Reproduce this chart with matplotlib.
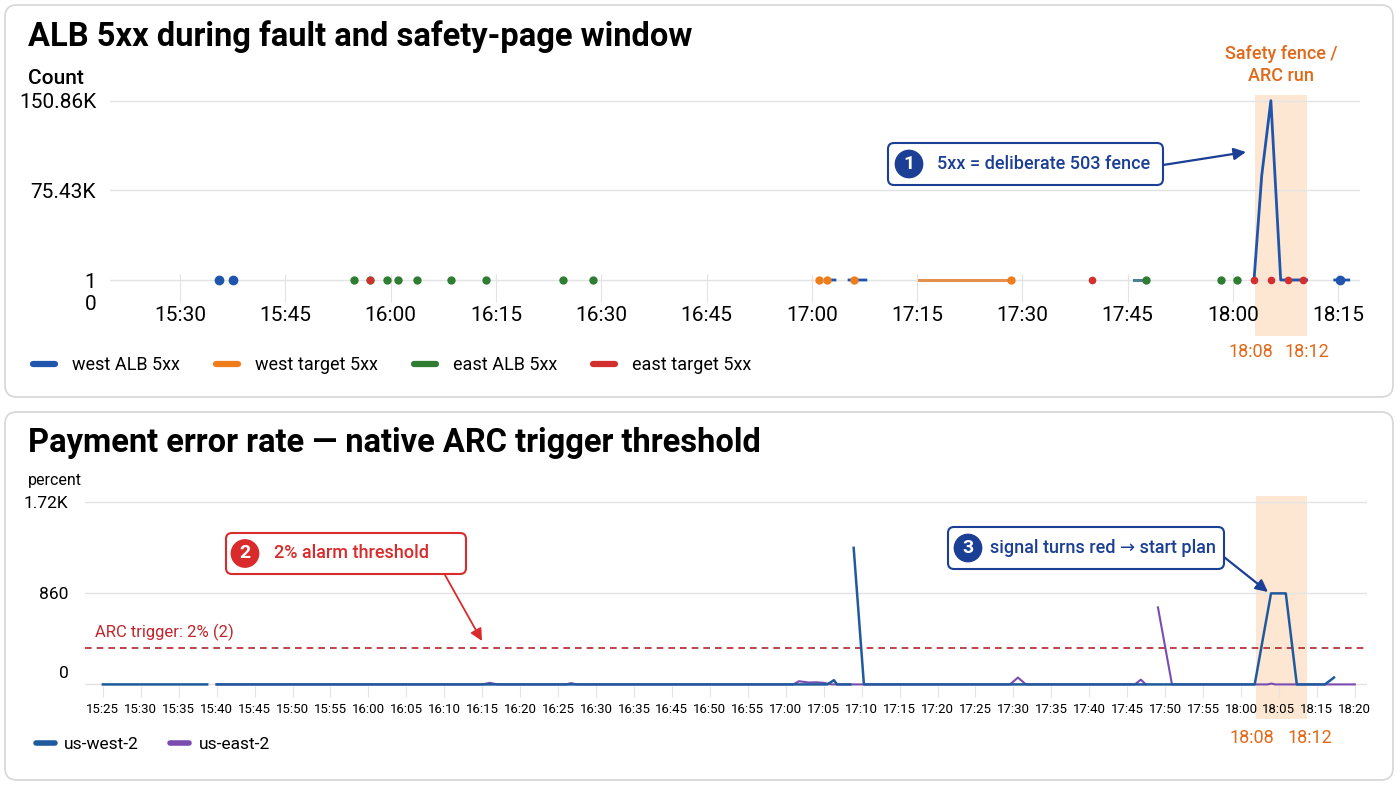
import numpy as np
import matplotlib
matplotlib.use("Agg")
import matplotlib.pyplot as plt
from matplotlib.patches import FancyBboxPatch, FancyArrowPatch, Rectangle
from matplotlib.lines import Line2D
from matplotlib.transforms import blended_transform_factory, ScaledTranslation

plt.rcParams['font.family'] = ['Roboto', 'DejaVu Sans']

nan = np.nan

# ---- top chart: ALB 5xx counts (time in minutes since midnight) ----
top_ticks = [930, 945, 960, 975, 990, 1005, 1020, 1035, 1050, 1065, 1080, 1095]
top_tick_labels = ["15:30", "15:45", "16:00", "16:15", "16:30", "16:45",
                   "17:00", "17:15", "17:30", "17:45", "18:00", "18:15"]
count_ticks = [0, 1, 75430, 150860]
count_tick_labels = ["0", "1", "75.43K", "150.86K"]

west_alb_t = [1022.2, 1023.3, nan, 1025.3, 1027.7, nan,
              1083.0, 1084.1, 1085.4, 1086.8, 1090.5, nan, 1094.5, 1096.5]
west_alb_v = [1, 1, nan, 1, 1, nan,
              1, 88000, 150860, 1, 1, nan, 1, 1]
west_alb_dot_t = [935.6, 937.5, 1095.2]
west_alb_dot_v = [1, 1, 1]

west_tgt_t = [1035.3, 1048.4]
west_tgt_v = [1, 1]
west_tgt_dot_t = [1021.0, 1022.2, 1026.0, 1048.4]
west_tgt_dot_v = [1, 1, 1, 1]

east_alb_t = [1065.9, 1067.6]
east_alb_v = [1, 1]
east_alb_dot_t = [954.8, 957.0, 959.5, 961.0, 963.8, 968.6, 973.6, 984.6,
                  988.8, 1067.6, 1078.3, 1080.6]
east_alb_dot_v = [1, 1, 1, 1, 1, 1, 1, 1, 1, 1, 1, 1]

east_tgt_t = [1087.8, 1090.0]
east_tgt_v = [1, 1]
east_tgt_dot_t = [957.0, 1059.9, 1083.0, 1085.4, 1087.8, 1090.0]
east_tgt_dot_v = [1, 1, 1, 1, 1, 1]

top_band = (1083.2, 1090.5)

# ---- bottom chart: payment error rate (x = slot of tick label) ----
rate_tick_labels = ["15:25", "15:30", "15:35", "15:40", "15:45", "15:50", "15:55",
                    "16:00", "16:05", "16:10", "16:15", "16:20", "16:25", "16:30",
                    "16:35", "16:45", "16:50", "16:55", "17:00", "17:05", "17:10",
                    "17:15", "17:20", "17:25", "17:30", "17:35", "17:40", "17:45",
                    "17:50", "17:55", "18:00", "18:05", "18:15", "18:20"]
rate_ticks = [0, 860, 1720]
rate_tick_text = ["0", "860", "1.72K"]

west2_x = [0, 2.75, nan, 3.0, 19.1, 19.27, 19.35, 19.7, nan, 19.79, 20.06,
           30.36, 30.79, 31.18, 31.47, 32.21, 32.45]
west2_y = [0, 0, nan, 0, 0, 40, 0, 0, nan, 1290, 0,
           0, 860, 860, 0, 0, 65]
east2_x = [3.0, 10.0, 10.2, 10.4, 12.2, 12.34, 12.5, 18.2, 18.35, 18.6, 18.8,
           19.0, 19.2, 23.91, 24.12, 24.33, 27.2, 27.36, 27.49, nan, 27.81, 28.18,
           30.7, 30.8, 30.9, 33.0]
east2_y = [0, 0, 15, 0, 0, 12, 0, 0, 30, 18, 20,
           15, 0, 0, 65, 0, 0, 45, 0, nan, 728, 0,
           0, 8, 0, 0]
arc_trigger = 340
bottom_band = (30.39, 31.73)

# colours
BLUE = "#1f55ad"
ORANGE = "#ef7d1c"
GREEN = "#2e7d32"
RED = "#d32f2f"
NAVY = "#1b3f95"
ALARM = "#d92b2b"
FENCE = "#e0691a"
BAND = "#fde3cc"
W2 = "#1f5a9e"
E2 = "#7a4cb0"
GRID = "#e3e3e3"

W, H = 1400, 788
fig = plt.figure(figsize=(W / 100, H / 100), dpi=100)
fig.patch.set_facecolor("white")


def fx(x):
    return x / W


def fy(y):
    return 1 - y / H


def card(x0, y0, x1, y1):
    fig.patches.append(FancyBboxPatch(
        (x0 / 100, (H - y1) / 100), (x1 - x0) / 100, (y1 - y0) / 100,
        boxstyle="round,pad=0,rounding_size=0.12", transform=fig.dpi_scale_trans,
        fc="white", ec="#d6d6d6", lw=1.2, zorder=-1))


card(5, 5, 1393, 397)
card(5, 412, 1393, 780)

# ================= top chart =================
K = 18500.0


def fwd(v):
    v = np.asarray(v, dtype=float)
    return np.where(v <= 1, v, 1 + (v - 1) / K)


def inv(u):
    u = np.asarray(u, dtype=float)
    return np.where(u <= 1, u, 1 + (u - 1) * K)


ax1 = fig.add_axes([fx(110), fy(302), fx(1360) - fx(110), fy(95) - fy(302)])
ax1.set_facecolor("none")
ax1.set_yscale("function", functions=(fwd, inv))
ax1.set_xlim(920.0, 1098.1)
ax1.set_ylim(0, 155600)

ax1.plot(west_tgt_t, west_tgt_v, color="#e49150", lw=2.2, zorder=3)
ax1.plot(east_alb_t, east_alb_v, color="#4f7f98", lw=2.2, zorder=3)
ax1.plot(east_tgt_t, east_tgt_v, color=RED, lw=1.5, zorder=3)
ax1.plot(west_alb_t, west_alb_v, color=BLUE, lw=2.0, zorder=4)
ax1.plot(west_tgt_dot_t, west_tgt_dot_v, "o", color=ORANGE, ms=5, zorder=5)
ax1.plot(east_alb_dot_t, east_alb_dot_v, "o", color=GREEN, ms=5, zorder=5)
ax1.plot(east_tgt_dot_t, east_tgt_dot_v, "o", color=RED, ms=4.5, zorder=5)
ax1.plot(west_alb_dot_t, west_alb_dot_v, "o", color=BLUE, ms=6, zorder=5)

tr1 = blended_transform_factory(ax1.transData, ax1.transAxes)
ax1.add_patch(Rectangle((top_band[0], -0.165), top_band[1] - top_band[0], 1.165,
                        transform=tr1, fc=BAND, ec="none", alpha=0.85,
                        clip_on=False, zorder=0))
ax1.text((top_band[0] + top_band[1]) / 2, 1.145, "Safety fence /\nARC run",
         transform=tr1, ha="center", va="center", color=FENCE, fontsize=13,
         fontweight="medium", linespacing=1.3)
ax1.text(top_band[0] - 0.6, -0.24, "18:08", transform=tr1, ha="center",
         va="center", color=FENCE, fontsize=13)
ax1.text(top_band[1] + 0.1, -0.24, "18:12", transform=tr1, ha="center",
         va="center", color=FENCE, fontsize=13)

ax1.set_xticks(top_ticks)
ax1.set_xticklabels(top_tick_labels, fontsize=15)
ax1.set_yticks(count_ticks)
ax1.set_yticklabels(count_tick_labels, fontsize=15)
ax1.tick_params(axis="x", direction="in", length=20, color=GRID, pad=3)
ax1.tick_params(axis="y", length=0, pad=10)
ax1.yaxis.grid(True, color=GRID, lw=1.0)
ax1.get_ygridlines()[0].set_visible(False)
for s in ax1.spines.values():
    s.set_visible(False)

fig.text(fx(28), fy(37), "ALB 5xx during fault and safety-page window",
         fontsize=23.5, fontweight="bold", va="center", ha="left")
fig.text(fx(28), fy(78), "Count", fontsize=15, fontweight="medium",
         va="center", ha="left")

leg1 = [Line2D([], [], color=c, lw=4.5, solid_capstyle="round")
        for c in (BLUE, ORANGE, GREEN, RED)]
fig.legend(leg1, ["west ALB 5xx", "west target 5xx", "east ALB 5xx", "east target 5xx"],
           loc="center left", bbox_to_anchor=(fx(17), fy(365)), ncol=4,
           frameon=False, fontsize=13, handlelength=1.2, handletextpad=0.95,
           columnspacing=2.0)

# ================= bottom chart =================
ax2 = fig.add_axes([fx(85), fy(686), fx(1367) - fx(85), fy(496) - fy(686)])
ax2.set_facecolor("none")
ax2.set_xlim(-0.47, 33.32)
ax2.set_ylim(-15, 1780)

ax2.plot(east2_x, east2_y, color=E2, lw=1.5, zorder=3)
ax2.plot(west2_x, west2_y, color=W2, lw=1.8, zorder=4)
ax2.axhline(arc_trigger, color="#b3262b", lw=1.2, ls=(0, (4, 3)), zorder=2)
ax2.annotate("ARC trigger: 2% (2)", xy=(-0.21, arc_trigger), xytext=(0, 5),
             textcoords="offset points", color="#c0262b", fontsize=12,
             va="bottom", ha="left")

tr2 = blended_transform_factory(ax2.transData, ax2.transAxes)
ax2.add_patch(Rectangle((bottom_band[0], -0.174), bottom_band[1] - bottom_band[0], 1.174,
                        transform=tr2, fc=BAND, ec="none", alpha=0.85,
                        clip_on=False, zorder=0))
ax2.text(bottom_band[0] - 0.1, -0.274, "18:08", transform=tr2, ha="center",
         va="center", color=FENCE, fontsize=13)
ax2.text(bottom_band[1] + 0.08, -0.274, "18:12", transform=tr2, ha="center",
         va="center", color=FENCE, fontsize=13)

ax2.set_xticks(range(len(rate_tick_labels)))
ax2.set_xticklabels(rate_tick_labels, fontsize=9.5)
ax2.set_yticks(rate_ticks)
ax2.set_yticklabels(rate_tick_text, fontsize=12.5)
ax2.tick_params(axis="x", direction="out", length=8, color=GRID, pad=4)
ax2.tick_params(axis="y", length=0, pad=12)
ax2.yaxis.grid(True, color=GRID, lw=1.0)
zero_lbl = ax2.get_yticklabels()[0]
zero_lbl.set_transform(zero_lbl.get_transform() +
                       ScaledTranslation(0, 0.12, fig.dpi_scale_trans))
for s in ax2.spines.values():
    s.set_visible(False)

fig.text(fx(28), fy(443), "Payment error rate \u2014 native ARC trigger threshold",
         fontsize=23.5, fontweight="bold", va="center", ha="left")
fig.text(fx(28), fy(480), "percent", fontsize=11.5, va="center", ha="left")

leg2 = [Line2D([], [], color=c, lw=4, solid_capstyle="round") for c in (W2, E2)]
fig.legend(leg2, ["us-west-2", "us-east-2"], loc="center left",
           bbox_to_anchor=(fx(20), fy(744)), ncol=2, frameon=False, fontsize=12.5,
           handlelength=1.1, handletextpad=0.55, columnspacing=1.8)


# ================= callouts =================
def callout(x0, y0, x1, y1, num, num_x, text, text_x, color, a_from, a_to, lw=1.6):
    fig.patches.append(FancyBboxPatch(
        (x0 / 100, (H - y1) / 100), (x1 - x0) / 100, (y1 - y0) / 100,
        boxstyle="round,pad=0,rounding_size=0.06", transform=fig.dpi_scale_trans,
        fc="white", ec=color, lw=1.5, zorder=5))
    yc = (y0 + y1) / 2
    fig.text(fx(num_x), fy(yc), num, color="white", fontweight="bold", fontsize=14,
             ha="center", va="center", zorder=7,
             bbox=dict(boxstyle="circle,pad=0.24", fc=color, ec=color))
    fig.text(fx(text_x), fy(yc), text, color=color, fontsize=13, fontweight="medium",
             ha="left", va="center", zorder=7)
    fig.add_artist(FancyArrowPatch(
        (fx(a_from[0]), fy(a_from[1])), (fx(a_to[0]), fy(a_to[1])),
        transform=fig.transFigure, arrowstyle="-|>", color=color, lw=lw,
        mutation_scale=18, shrinkA=0, shrinkB=0, zorder=8))


callout(888, 143, 1163, 185, "1", 909, "5xx = deliberate 503 fence", 937, NAVY,
        (1163, 165), (1246, 152))
callout(226, 533, 466, 574, "2", 245, "2% alarm threshold", 274, ALARM,
        (445, 575), (482, 641), lw=1.3)
callout(948, 527, 1224, 569, "3", 968, "signal turns red \u2192 start plan", 990, NAVY,
        (1224, 557), (1268, 592))

fig.savefig("out.png", dpi=100)
